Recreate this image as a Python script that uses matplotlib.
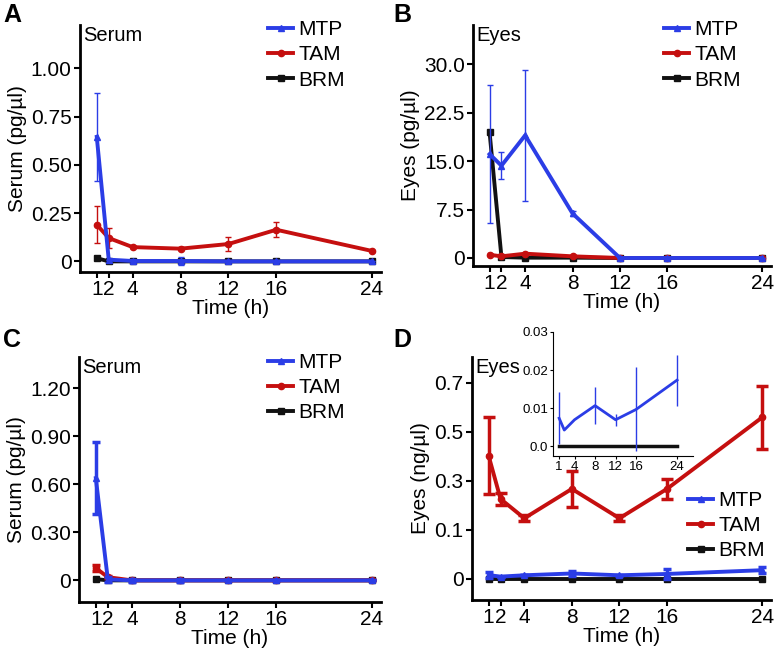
import numpy as np
import matplotlib
matplotlib.use("Agg")
import matplotlib.pyplot as plt
from matplotlib.ticker import NullLocator

# ── data ──────────────────────────────────────────────────────────────────
hours = [1, 2, 4, 8, 12, 16, 24]
names = ["MTP", "TAM", "BRM"]

# A: serum, pg/µl
mtp_a    = [0.645, 0.009, 0.002, 0.002, 0.0, 0.0, 0.0]
mtp_a_sd = [0.23, 0.0, 0.012, 0.022, 0.0, 0.0, 0.0]
tam_a    = [0.19, 0.121, 0.074, 0.066, 0.09, 0.164, 0.054]
tam_a_sd = [0.095, 0.05, 0.006, 0.008, 0.035, 0.038, 0.006]
brm_a    = [0.017, 0.0, 0.0, 0.0, 0.0, 0.0, 0.0]

# B: eyes, pg/µl
mtp_b    = [16.1, 14.3, 19.0, 6.9, 0.0, 0.0, 0.0]
mtp_b_sd = [10.7, 2.1, 10.2, 0.4, 0.0, 0.0, 0.0]
tam_b    = [0.5, 0.26, 0.67, 0.26, 0.0, 0.0, 0.0]
brm_b    = [19.45, 0.15, 0.05, 0.05, 0.0, 0.0, 0.0]

# C: serum, pg/µl
mtp_c    = [0.638, 0.006, 0.0, 0.0, 0.0, 0.0, 0.0]
mtp_c_sd = [0.225, 0.015, 0.01, 0.01, 0.0, 0.0, 0.0]
tam_c    = [0.077, 0.02, 0.0, 0.0, 0.0, 0.0, 0.0]
tam_c_sd = [0.02, 0.005, 0.0, 0.0, 0.0, 0.0, 0.0]
brm_c    = [0.008, 0.0, 0.0, 0.0, 0.0, 0.0, 0.0]

# D: eyes, ng/µl
mtp_d    = [0.0074, 0.0043, 0.007, 0.0107, 0.0070, 0.0097, 0.0174]
mtp_d_sd = [0.0068, 0.0, 0.0, 0.0049, 0.0016, 0.011, 0.0067]
tam_d    = [0.402, 0.226, 0.147, 0.267, 0.147, 0.267, 0.559]
tam_d_sd = [0.157, 0.026, 0.012, 0.072, 0.012, 0.04, 0.13]
brm_d    = [0.0, 0.0, 0.0, 0.0, 0.0, 0.0, 0.0]

inset_hours = [1, 4, 8, 12, 16, 24]

yticks_a = [0, 0.25, 0.50, 0.75, 1.00]
ylabels_a = ["0", "0.25", "0.50", "0.75", "1.00"]
yticks_b = [0, 7.5, 15.0, 22.5, 30.0]
ylabels_b = ["0", "7.5", "15.0", "22.5", "30.0"]
yticks_c = [0, 0.30, 0.60, 0.90, 1.20]
ylabels_c = ["0", "0.30", "0.60", "0.90", "1.20"]
yticks_d = [0, 0.1, 0.3, 0.5, 0.7]
ylabels_d = ["0", "0.1", "0.3", "0.5", "0.7"]
yticks_in = [0.0, 0.01, 0.02, 0.03]
ylabels_in = ["0.0", "0.01", "0.02", "0.03"]

BLUE = "#2b3de6"
RED = "#c50f0f"
BLACK = "#111111"

plt.rcParams["font.family"] = ["Liberation Sans", "DejaVu Sans"]
FS = 15
W, H = 780, 655

fig = plt.figure(figsize=(W / 100, H / 100), dpi=100)


def px_axes(l, t, r, b):
    return fig.add_axes([l / W, 1 - b / H, (r - l) / W, (b - t) / H])


def style(ax, yt, yl, ylim, ylabel, title):
    ax.set_xlim(-0.4, 24.75)
    ax.set_ylim(*ylim)
    ax.set_xticks(hours)
    ax.set_xticklabels([str(h) for h in hours])
    ax.set_yticks(yt)
    ax.set_yticklabels(yl)
    ax.yaxis.set_minor_locator(NullLocator())
    for s in ["top", "right"]:
        ax.spines[s].set_visible(False)
    for s in ["left", "bottom"]:
        ax.spines[s].set_linewidth(2)
    ax.tick_params(length=4, width=1.5, pad=2, labelsize=FS)
    ax.set_xlabel("Time (h)", fontsize=FS, labelpad=0)
    ax.set_ylabel(ylabel, fontsize=FS, labelpad=3)
    ax.text(0.012, 0.995, title, transform=ax.transAxes, va="top", ha="left", fontsize=FS - 0.5)


def series(ax, y, sd, color, marker, elw, cap, z):
    if sd is None:
        return ax.plot(hours, y, color=color, marker=marker, ms=4.5, lw=2.8,
                       zorder=z, clip_on=False)[0]
    ax.errorbar(hours, y, yerr=sd, color=color, marker=marker, ms=4.5, lw=2.8,
                elinewidth=elw, capsize=cap, capthick=elw, zorder=z, clip_on=False)
    return ax.plot([], [], color=color, marker=marker, ms=4.5, lw=2.8)[0]


def legend(ax, handles, x, y):
    ax.legend(handles, names, loc="upper left", bbox_to_anchor=(x / W, 1 - y / H),
              bbox_transform=fig.transFigure, frameon=False, fontsize=FS,
              handlelength=1.2, handletextpad=0.25, labelspacing=0.3,
              borderpad=0, borderaxespad=0)


def letter(x, y, s):
    fig.text(x / W, 1 - y / H, s, fontsize=18, fontweight="bold", va="top")


# ── A ────────────────────────────────────────────────────────────────────
ax = px_axes(80, 25, 381, 272)
hb = series(ax, brm_a, None, BLACK, "s", 0, 0, 2)
ht = series(ax, tam_a, tam_a_sd, RED, "o", 1, 2, 3)
hm = series(ax, mtp_a, mtp_a_sd, BLUE, "^", 1, 2, 4)
style(ax, yticks_a, ylabels_a, (-0.055, 1.225), "Serum (pg/µl)", "Serum")
legend(ax, [hm, ht, hb], 268, 20)
letter(3, 3, "A")

# ── B ────────────────────────────────────────────────────────────────────
ax = px_axes(473, 25, 771, 266)
ht = series(ax, tam_b, None, RED, "o", 0, 0, 3)
hm = series(ax, mtp_b, mtp_b_sd, BLUE, "^", 1, 2, 4)
hb = series(ax, brm_b, None, BLACK, "s", 0, 0, 2)
style(ax, yticks_b, ylabels_b, (-1.24, 36.1), "Eyes (pg/µl)", "Eyes")
legend(ax, [hm, ht, hb], 664, 20)
letter(393, 3, "B")

# ── C ────────────────────────────────────────────────────────────────────
ax = px_axes(79, 357, 381, 602)
hb = series(ax, brm_c, None, BLACK, "s", 0, 0, 2)
ht = series(ax, tam_c, tam_c_sd, RED, "o", 2.5, 3, 3)
hm = series(ax, mtp_c, mtp_c_sd, BLUE, "^", 2.5, 3, 4)
style(ax, yticks_c, ylabels_c, (-0.135, 1.394), "Serum (pg/µl)", "Serum")
legend(ax, [hm, ht, hb], 268, 353)
letter(3, 328, "C")


# ── D (tick labels are unevenly spaced in the original) ──────────────────
def fwd(y):
    y = np.asarray(y, dtype=float)
    return np.where(y <= 0.1, y * 10, 1 + (y - 0.1) * 5)


def inv(u):
    u = np.asarray(u, dtype=float)
    return np.where(u <= 1, u / 10, 0.1 + (u - 1) / 5)


ax = px_axes(472, 357, 771, 600)
ax.set_yscale("function", functions=(fwd, inv))
hb = series(ax, brm_d, None, BLACK, "s", 0, 0, 2)
ht = series(ax, tam_d, tam_d_sd, RED, "o", 2.5, 4, 3)
hm = series(ax, mtp_d, mtp_d_sd, BLUE, "^", 2.5, 3, 4)
style(ax, yticks_d, ylabels_d, (-0.0435, 0.806), "Eyes (ng/µl)", "Eyes")
legend(ax, [hm, ht, hb], 688, 491)
letter(393, 328, "D")

# inset
axi = px_axes(553, 332, 693, 456)
axi.errorbar(hours, mtp_d, yerr=mtp_d_sd, color=BLUE, lw=2, elinewidth=1, capsize=0, zorder=3)
axi.plot(hours, brm_d, color=BLACK, lw=2.5, zorder=2)
axi.set_xlim(-0.2, 27.1)
axi.set_ylim(-0.0025, 0.03)
axi.set_xticks(inset_hours)
axi.set_xticklabels([str(h) for h in inset_hours])
axi.set_yticks(yticks_in)
axi.set_yticklabels(ylabels_in)
for s in ["top", "right"]:
    axi.spines[s].set_visible(False)
axi.tick_params(length=2.5, width=0.8, pad=1, labelsize=9.5)

fig.savefig("out.png", dpi=100)
